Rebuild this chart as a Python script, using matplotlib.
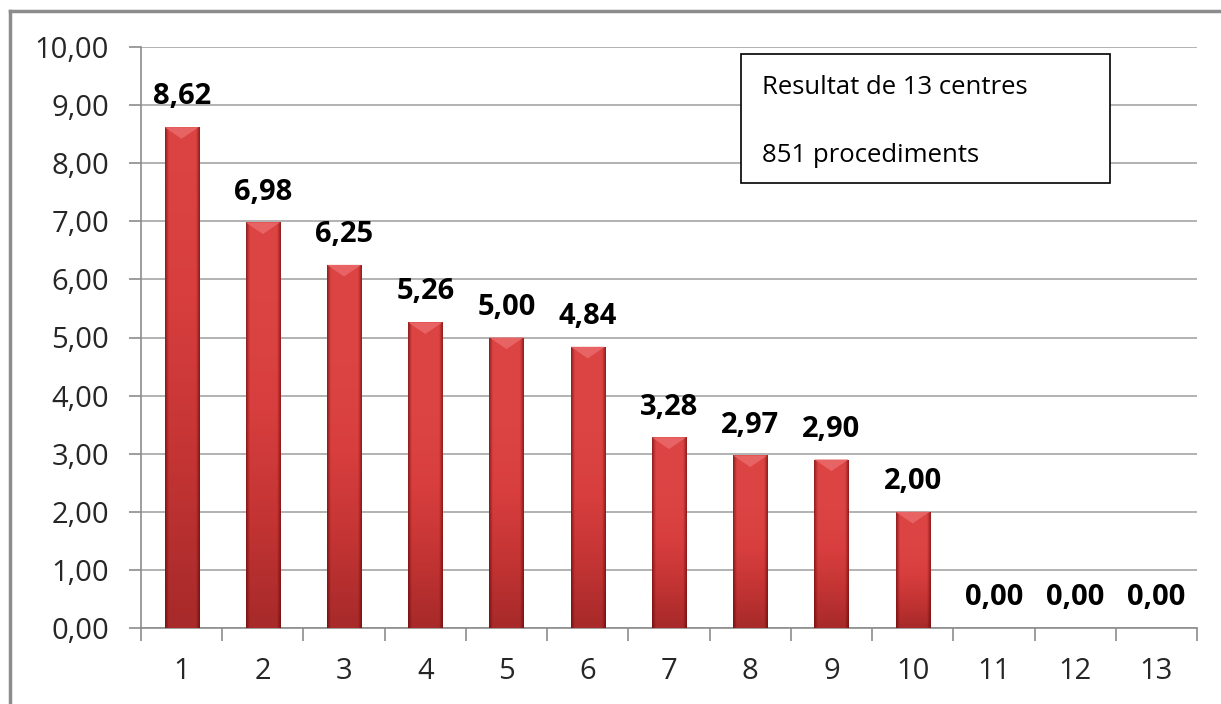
import numpy as np
import matplotlib.pyplot as plt
from matplotlib.patches import Rectangle
from matplotlib.colors import LinearSegmentedColormap

# data
centres = [str(i) for i in range(1, 14)]
valors = [8.62, 6.98, 6.25, 5.26, 5.00, 4.84, 3.28, 2.97, 2.90, 2.00, 0.00, 0.00, 0.00]
y_ticks = [0, 1, 2, 3, 4, 5, 6, 7, 8, 9, 10]
nota = ["Resultat de 13 centres", "851 procediments"]

plt.rcParams['font.family'] = ['Open Sans', 'DejaVu Sans']

fig = plt.figure(figsize=(12.21, 7.04), dpi=100)
ax = fig.add_axes([141 / 1221, 1 - 628 / 704, (1197 - 141) / 1221, (628 - 47) / 704])

# outer frame (only top and left edges visible)
fig.add_artist(plt.Line2D([9.5 / 1221, 9.5 / 1221], [0, 1 - 10.5 / 704], color='#8c8c8c', lw=2.5,
                          transform=fig.transFigure))
fig.add_artist(plt.Line2D([9.5 / 1221, 1], [1 - 10.5 / 704, 1 - 10.5 / 704], color='#8c8c8c', lw=2.5,
                          transform=fig.transFigure))

x = np.arange(len(centres))
bars = ax.bar(x, valors, width=0.42, color='#cc3333', zorder=3)

# shading: lighter at top, darker at bottom, thin darker edges
cmap_v = LinearSegmentedColormap.from_list('vert', ['#a82a2a', '#c43434', '#d83e3e', '#dc4444'])
for b in bars:
    h = b.get_height()
    if h <= 0:
        continue
    x0, w = b.get_x(), b.get_width()
    img = np.tile(np.linspace(0, 1, 64)[:, None], (1, 2))
    im = ax.imshow(img, extent=[x0, x0 + w, 0, h], cmap=cmap_v, vmin=0, vmax=max(h, 6) / 8.62,
                   aspect='auto', zorder=4, interpolation='bilinear', origin='lower')
    im.set_clip_path(b)
    # darker side edges
    edge = np.zeros((2, 40, 4))
    edge[..., 0] = 0.35
    prof = np.concatenate([np.linspace(0.55, 0, 5), np.zeros(30), np.linspace(0, 0.55, 5)])
    edge[..., 3] = prof[None, :]
    im2 = ax.imshow(edge, extent=[x0, x0 + w, 0, h], aspect='auto', zorder=5,
                    interpolation='bilinear', origin='lower')
    im2.set_clip_path(b)
    # top bevel
    ax.add_patch(plt.Polygon([[x0, h], [x0 + w, h], [x0 + w * 0.5, h - 0.2]], closed=True,
                             color='#e86464', zorder=6, lw=0))

for xi, v in zip(x, valors):
    ax.annotate(f"{v:.2f}".replace('.', ','), (xi, v), xytext=(0, 16.5), textcoords='offset points',
                ha='center', va='baseline', fontsize=21, fontweight='bold', color='black', zorder=7)

ax.set_xlim(-0.5, len(centres) - 0.5)
ax.set_ylim(0, 10)
ax.set_yticks(y_ticks)
ax.set_yticklabels([f"{t:.2f}".replace('.', ',') for t in y_ticks], fontsize=21, color='#262626')
ax.set_xticks(x)
ax.set_xticklabels(centres, fontsize=21, color='#262626')
ax.set_xticks(np.arange(-0.5, len(centres)), minor=True)
ax.tick_params(axis='x', which='major', length=0, pad=21)
ax.tick_params(axis='x', which='minor', length=9, color='#8c8c8c', width=1.2)
ax.tick_params(axis='y', length=9, color='#8c8c8c', width=1.2, pad=14)

ax.grid(axis='y', color='#a6a6a6', lw=1.2, zorder=0)
for s in ['top', 'right']:
    ax.spines[s].set_visible(False)
for s in ['left', 'bottom']:
    ax.spines[s].set_color('#8c8c8c')
    ax.spines[s].set_linewidth(1.2)

# note box
box = Rectangle((741 / 1221, 1 - 183 / 704), (1110 - 741) / 1221, (183 - 54) / 704,
                transform=fig.transFigure, facecolor='white', edgecolor='black', lw=1.2, zorder=10)
fig.add_artist(box)
fig.text(762 / 1221, 1 - 87 / 704, nota[0], fontsize=18.5, va='center', ha='left', zorder=11)
fig.text(762 / 1221, 1 - 156 / 704, nota[1], fontsize=18.5, va='center', ha='left', zorder=11)

fig.savefig('out.png', dpi=100)
